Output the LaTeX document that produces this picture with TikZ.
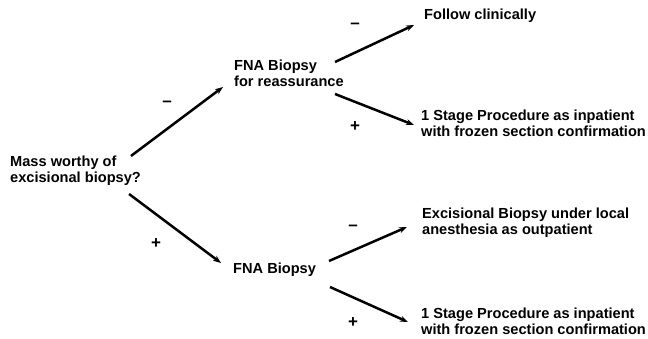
\documentclass[tikz,border=0pt]{standalone}
\usepackage{fontspec}
\setmainfont{Liberation Sans}
\usetikzlibrary{arrows.meta}
\begin{document}
\begin{tikzpicture}[x=1pt,y=-1pt,
  lbl/.style={font=\fontsize{14.6}{16}\selectfont\bfseries, inner sep=0pt, anchor=west, align=left},
  sgn/.style={font=\fontsize{17}{18}\selectfont\bfseries, inner sep=0pt},
  arr/.style={line width=2.5pt, -{Stealth[length=8pt,width=6pt]}}]
\useasboundingbox (0,0) rectangle (648,339);
\node[lbl] (mass) at (10,171) {Mass worthy of\\excisional biopsy?};
\node[lbl] (fnaA) at (234,73.5) {FNA Biopsy\\for reassurance};
\node[lbl] (follow) at (424,16) {Follow clinically};
\node[lbl] (stageA) at (421,123) {1 Stage Procedure as inpatient\\with frozen section confirmation};
\node[lbl] (fnaB) at (233,270) {FNA Biopsy};
\node[lbl] (excis) at (422,223) {Excisional Biopsy under local\\anesthesia as outpatient};
\node[lbl] (stageB) at (421,321) {1 Stage Procedure as inpatient\\with frozen section confirmation};
% connector end points
\coordinate (mA) at (131,156);
\coordinate (mB) at (129,194);
\coordinate (fA) at (223,87);
\coordinate (fB) at (221,263);
\coordinate (aU) at (335,62);
\coordinate (aD) at (335,94);
\coordinate (bU) at (329,261);
\coordinate (bD) at (330,287);
\coordinate (tFollow) at (414,25);
\coordinate (tStageA) at (414,125);
\coordinate (tExcis) at (407,227);
\coordinate (tStageB) at (408,322);
\draw[arr] (mA) -- (fA);
\draw[arr] (mB) -- (fB);
\draw[arr] (aU) -- (tFollow);
\draw[arr] (aD) -- (tStageA);
\draw[arr] (bU) -- (tExcis);
\draw[arr] (bD) -- (tStageB);
\node[sgn] (s1) at (167,104) {–};
\node[sgn] (s2) at (156,244) {+};
\node[sgn] (s3) at (355,26) {–};
\node[sgn] (s4) at (355,127) {+};
\node[sgn] (s5) at (353,228) {–};
\node[sgn] (s6) at (353,323) {+};
\end{tikzpicture}
\end{document}
